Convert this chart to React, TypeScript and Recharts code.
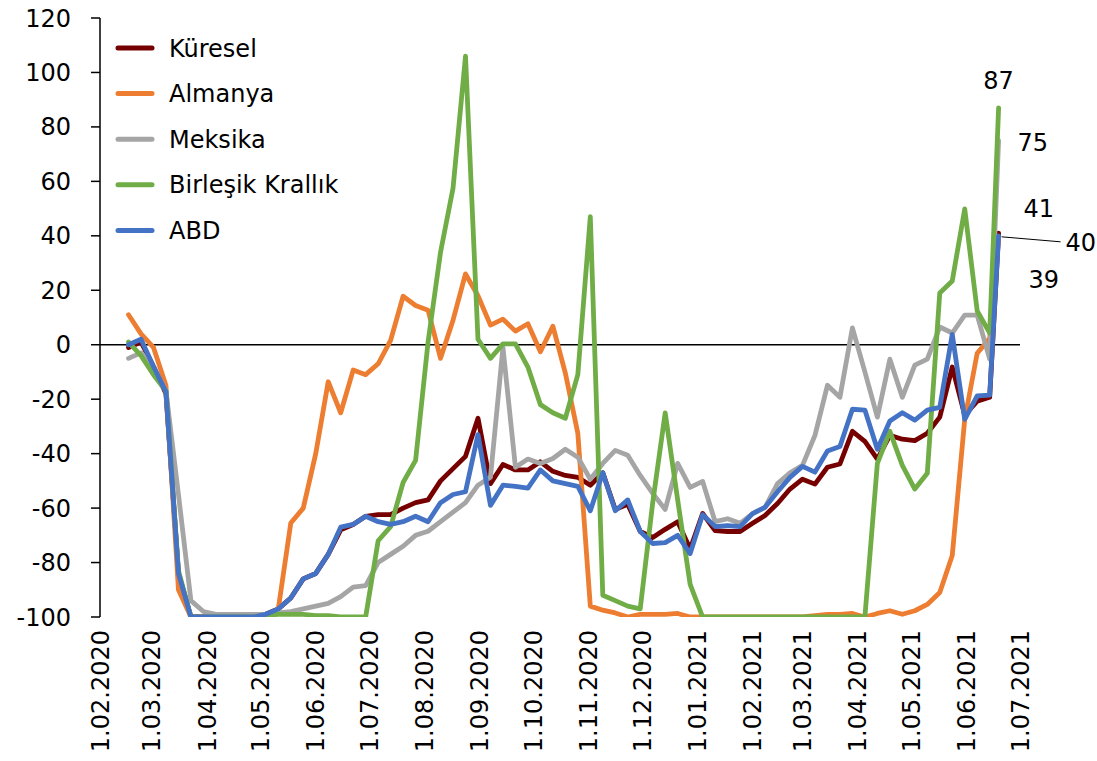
import React from 'react';
import { LineChart, Line, XAxis, YAxis, ReferenceLine, Legend, LabelList } from 'recharts';

const dates = [
  '2020-02-17', '2020-02-24', '2020-03-02', '2020-03-09', '2020-03-16', '2020-03-23', '2020-03-30', '2020-04-06', '2020-04-13', '2020-04-20',
  '2020-04-27', '2020-05-04', '2020-05-11', '2020-05-18', '2020-05-25', '2020-06-01', '2020-06-08', '2020-06-15', '2020-06-22', '2020-06-29',
  '2020-07-06', '2020-07-13', '2020-07-20', '2020-07-27', '2020-08-03', '2020-08-10', '2020-08-17', '2020-08-24', '2020-08-31', '2020-09-07',
  '2020-09-14', '2020-09-21', '2020-09-28', '2020-10-05', '2020-10-12', '2020-10-19', '2020-10-26', '2020-11-02', '2020-11-09', '2020-11-16',
  '2020-11-23', '2020-11-30', '2020-12-07', '2020-12-14', '2020-12-21', '2020-12-28', '2021-01-04', '2021-01-11', '2021-01-18', '2021-01-25',
  '2021-02-01', '2021-02-08', '2021-02-15', '2021-02-22', '2021-03-01', '2021-03-08', '2021-03-15', '2021-03-22', '2021-03-29', '2021-04-05',
  '2021-04-12', '2021-04-19', '2021-04-26', '2021-05-03', '2021-05-10', '2021-05-17', '2021-05-24', '2021-05-31', '2021-06-07', '2021-06-14',
  '2021-06-19',
];

const kuresel = [
  -1, 1, -8, -18, -84, -100, -100, -100, -100, -100,
  -100, -99, -97, -93, -86, -84, -77, -68, -66, -63,
  -62.4, -62.4, -60, -58, -57, -50, -45.5, -41, -27, -51,
  -44, -46, -46, -43, -46.5, -48, -48.7, -51.6, -47, -60.5,
  -58.6, -68.6, -70.8, -67.8, -65, -75, -62, -68.3, -68.6, -68.6,
  -65.6, -62.7, -58.3, -53, -49.4, -51.2, -45, -43.8, -31.8, -35.5,
  -42, -33.3, -34.7, -35.2, -32.5, -26.6, -8.2, -25.9, -20.7, -19.3,
  41,
];

const almanya = [
  11, 4, -1, -15, -90, -100, -100, -100, -100, -100,
  -100, -100, -97, -65.5, -60, -40, -13.6, -25, -9.3, -11,
  -7, 1.6, 17.8, 14.4, 12.7, -5, 9, 26, 18, 7.2,
  9.4, 5, 7.7, -2.6, 6.8, -10.4, -32.5, -96, -97.5, -98.5,
  -100, -99, -99, -99, -98.7, -100, -100, -100, -100, -100,
  -100, -100, -100, -100, -100, -99.5, -99, -99, -98.7, -100,
  -98.7, -97.7, -99, -97.7, -95.4, -91, -77.4, -27.4, -3.1, 2.4,
  39,
];

const meksika = [
  -5, -3, -8, -17, -55, -94, -98, -99, -99, -99,
  -99, -99, -98.5, -98, -97, -96, -95, -92.5, -89, -88.5,
  -80, -77, -74, -70, -68.5, -65, -61.5, -58, -51.6, -48.7,
  -1, -45, -42, -43.6, -41.8, -38.4, -41.3, -49.4, -43.6, -38.8,
  -40.6, -48, -54.6, -60.5, -43.6, -52.4, -50.2, -65, -63.9, -65.6,
  -62, -59.7, -51, -47, -44.3, -33.3, -14.9, -19.3, 6.2, -10,
  -26.6, -5.3, -19.3, -7.5, -5.3, 6.5, 4.3, 10.9, 10.9, -5.3,
  75,
];

const birlesikKrallik = [
  1, -4, -11, -17, -83, -100, -100, -100, -100, -100,
  -100, -99.5, -99, -99, -99, -99.5, -99.5, -100, -100, -100,
  -72, -66.8, -50.6, -42.5, 1, 34, 57.5, 106, 2, -5,
  0.3, 0.3, -8.2, -22, -25, -27, -11, 47, -92, -94,
  -96, -97, -58, -25, -57, -88, -100, -100, -100, -100,
  -100, -100, -100, -100, -100, -100, -100, -100, -100, -100,
  -43.6, -31.8, -44.3, -53, -47.2, 19, 23.4, 49.9, 12.4, 4.3,
  87,
];

const abd = [
  0, 2, -8, -17.3, -84, -100, -100, -100, -100, -100,
  -100, -99, -97, -93, -86, -84, -77, -67, -66, -63,
  -65, -66, -65, -63, -65, -58, -55, -54, -33, -59,
  -51.6, -52, -52.7, -46, -50, -51, -52, -61, -47, -61,
  -57, -68.6, -73, -72.7, -70, -76.7, -62.4, -66.8, -66.4, -66.8,
  -62, -59.7, -54, -48.7, -44.7, -46.8, -39, -37.4, -23.7, -24,
  -38.4, -28, -25, -27.7, -24, -23, 3.8, -27.4, -18.8, -18.5,
  40,
];

const xTickLabels = [
  '1.02.2020', '1.03.2020', '1.04.2020', '1.05.2020', '1.06.2020', '1.07.2020', '1.08.2020', '1.09.2020', '1.10.2020',
  '1.11.2020', '1.12.2020', '1.01.2021', '1.02.2021', '1.03.2021', '1.04.2021', '1.05.2021', '1.06.2021', '1.07.2021',
];

const yTicks = [-100, -80, -60, -40, -20, 0, 20, 40, 60, 80, 100, 120];

const seriesNames = ['Küresel', 'Almanya', 'Meksika', 'Birleşik Krallık', 'ABD'];
const seriesKeys = ['kuresel', 'almanya', 'meksika', 'birlesik', 'abd'];
const seriesColors = ['#760000', '#ED7D31', '#A5A5A5', '#70AD47', '#4472C4'];
const seriesValues = [kuresel, almanya, meksika, birlesikKrallik, abd];

const FONT = '"DejaVu Sans", Verdana, sans-serif';

const isoToTs = (s: string) => {
  const [y, m, d] = s.split('-').map(Number);
  return Date.UTC(y, m - 1, d);
};
const labelToTs = (s: string) => {
  const [d, m, y] = s.split('.').map(Number);
  return Date.UTC(y, m - 1, d);
};

const xTicks = xTickLabels.map(labelToTs);
const tickLabelByTs: Record<number, string> = {};
xTickLabels.forEach((l, i) => {
  tickLabelByTs[xTicks[i]] = l;
});

const data = dates.map((d, i) => {
  const row: Record<string, number> = { t: isoToTs(d) };
  seriesKeys.forEach((k, j) => {
    row[k] = seriesValues[j][i];
  });
  return row;
});

const XTick = (props: any) => {
  const { x, y, payload } = props;
  return (
    <text
      x={0}
      y={0}
      transform={`translate(${x},${y}) rotate(-90)`}
      textAnchor="end"
      dy="0.36em"
      fontSize={24}
      fontFamily={FONT}
      fill="#000"
    >
      {tickLabelByTs[payload.value] ?? ''}
    </text>
  );
};

// offsets of the end-value labels relative to the last point
const endLabelStyle: Record<string, { dx: number; dy: number; anchor: string; leader?: boolean }> = {
  kuresel: { dx: 25, dy: -16, anchor: 'start' },
  almanya: { dx: 30, dy: 49, anchor: 'start' },
  meksika: { dx: 19, dy: 10, anchor: 'start' },
  birlesik: { dx: 0, dy: -19, anchor: 'middle' },
  abd: { dx: 67, dy: 15, anchor: 'start', leader: true },
};

const makeEndLabel = (key: string) => (props: any) => {
  const { x, y, value, index } = props;
  if (index !== data.length - 1) return null;
  const st = endLabelStyle[key];
  return (
    <g>
      {st.leader && (
        <line x1={x + 3} y1={y + 1} x2={x + 62} y2={y + 6} stroke="#000" strokeWidth={1} />
      )}
      <text
        x={x + st.dx}
        y={y + st.dy}
        textAnchor={st.anchor as any}
        fontSize={24}
        fontFamily={FONT}
        fill="#000"
      >
        {Math.round(Number(value))}
      </text>
    </g>
  );
};

const LegendContent = (props: any) => {
  const payload = [...(props.payload || [])].sort(
    (a: any, b: any) => seriesNames.indexOf(a.value) - seriesNames.indexOf(b.value)
  );
  return (
    <svg width={300} height={230} style={{ display: 'block' }}>
      {payload.map((entry: any, i: number) => {
        const cy = 23 + 45.6 * i;
        return (
          <g key={i}>
            <line x1={8} y1={cy} x2={42} y2={cy} stroke={entry.color} strokeWidth={5} strokeLinecap="round" />
            <text x={59} y={cy} dy="0.36em" fontSize={24} fontFamily={FONT} fill="#000">
              {entry.value}
            </text>
          </g>
        );
      })}
    </svg>
  );
};

export default function App() {
  return (
    <div style={{ position: 'absolute', left: 0, top: 0, width: 1097, height: 761, background: '#fff' }}>
      <LineChart width={1097} height={761} data={data} margin={{ top: 18, right: 77, bottom: 0, left: 0 }}>
        <XAxis
          dataKey="t"
          type="number"
          domain={[xTicks[0], xTicks[xTicks.length - 1]]}
          ticks={xTicks}
          interval={0}
          tick={<XTick />}
          axisLine={false}
          tickLine={false}
          tickSize={0}
          tickMargin={13}
          height={144}
          allowDataOverflow
        />
        <YAxis
          type="number"
          domain={[-100, 120]}
          ticks={yTicks}
          interval={0}
          width={100}
          tickSize={9}
          tickMargin={20}
          axisLine={{ stroke: '#000', strokeWidth: 1.5 }}
          tickLine={{ stroke: '#000', strokeWidth: 1.5 }}
          tick={{ fontSize: 24, fontFamily: FONT, fill: '#000' }}
          allowDataOverflow
        />
        <ReferenceLine y={0} stroke="#000" strokeWidth={1.5} />
        <Legend
          layout="vertical"
          align="center"
          verticalAlign="middle"
          itemSorter={null as any}
          content={<LegendContent />}
          wrapperStyle={{ position: 'absolute', left: 110, top: 25, width: 300, height: 230 }}
        />
        {seriesKeys.map((k, j) => (
          <Line
            key={k}
            type="linear"
            dataKey={k}
            name={seriesNames[j]}
            stroke={seriesColors[j]}
            strokeWidth={4.8}
            strokeLinejoin="round"
            strokeLinecap="round"
            dot={false}
            activeDot={false}
            isAnimationActive={false}
          >
            <LabelList dataKey={k} content={makeEndLabel(k)} />
          </Line>
        ))}
      </LineChart>
    </div>
  );
}
